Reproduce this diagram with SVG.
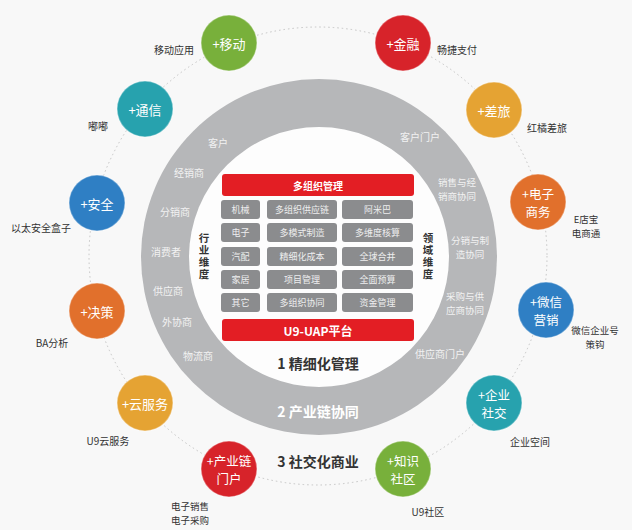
<svg xmlns="http://www.w3.org/2000/svg" width="632" height="530" viewBox="0 0 632 530">
<style>
text{font-family:"Noto Sans CJK SC","Liberation Sans",sans-serif;dominant-baseline:central;text-anchor:middle}
.lbl{font-size:10px;fill:#333}
.lbl2{font-size:9.5px;fill:#333}
.ring{font-size:10px;fill:#f2f2f2}
.ring2{font-size:9.5px;fill:#f2f2f2}
.cl{font-size:13px;fill:#fff}
.cl2{font-size:12.5px;fill:#fff}
.cell{fill:#8b8c8e}
.ct{font-size:9px;fill:#eeeeee}
.bar{fill:#e31e24}
.bt{font-size:10px;fill:#fff;font-weight:bold}
.vt{font-size:10.5px;fill:#333;font-weight:bold;writing-mode:vertical-rl;letter-spacing:1.5px}
.big{font-size:14px;font-weight:bold}
.node circle{stroke:#ffffff;stroke-opacity:0.35;stroke-width:1.5}
</style>
<rect width="632" height="530" fill="#f8f8f8"/>
<g id="connectors">
<circle cx="318" cy="256" r="229" fill="none" stroke="#c4c4c4" stroke-width="1" stroke-dasharray="1.5 3"/>
</g>
<g id="ring">
<circle cx="319" cy="257" r="178" fill="#b6b7b9"/>
<circle cx="319" cy="257" r="130" fill="#fdfdfd"/>
<text class="ring" x="218" y="142">客户</text>
<text class="ring" x="189" y="172">经销商</text>
<text class="ring" x="175" y="211">分销商</text>
<text class="ring" x="166" y="251">消费者</text>
<text class="ring" x="168" y="290">供应商</text>
<text class="ring" x="177" y="321">外协商</text>
<text class="ring" x="198" y="355">物流商</text>
<text class="ring" x="420" y="136">客户门户</text>
<text class="ring2" x="457" y="182">销售与经<tspan x="457" dy="14">销商协同</tspan></text>
<text class="ring2" x="470" y="240">分销与制<tspan x="470" dy="14">造协同</tspan></text>
<text class="ring2" x="465" y="296">采购与供<tspan x="465" dy="14">应商协同</tspan></text>
<text class="ring" x="440" y="353">供应商门户</text>
<text class="vt" x="204" y="257">行业维度</text>
<text class="vt" x="428" y="257">领域维度</text>
<text class="big" x="318" y="363" fill="#333">1 精细化管理</text>
<text class="big" x="318" y="411" fill="#ffffff">2 产业链协同</text>
<text class="big" x="318" y="461" fill="#333">3 社交化商业</text>
</g>
<g id="platform">
<rect class="bar" x="222" y="174" width="192" height="22" rx="3"/>
<text class="bt" x="318" y="185">多组织管理</text>
<rect class="cell" x="221" y="200" width="39" height="19" rx="3"/>
<rect class="cell" x="267" y="200" width="70" height="19" rx="3"/>
<rect class="cell" x="342" y="200" width="71" height="19" rx="3"/>
<rect class="cell" x="221" y="223" width="39" height="19" rx="3"/>
<rect class="cell" x="267" y="223" width="70" height="19" rx="3"/>
<rect class="cell" x="342" y="223" width="71" height="19" rx="3"/>
<rect class="cell" x="221" y="247" width="39" height="19" rx="3"/>
<rect class="cell" x="267" y="247" width="70" height="19" rx="3"/>
<rect class="cell" x="342" y="247" width="71" height="19" rx="3"/>
<rect class="cell" x="221" y="270" width="39" height="19" rx="3"/>
<rect class="cell" x="267" y="270" width="70" height="19" rx="3"/>
<rect class="cell" x="342" y="270" width="71" height="19" rx="3"/>
<rect class="cell" x="221" y="293" width="39" height="19" rx="3"/>
<rect class="cell" x="267" y="293" width="70" height="19" rx="3"/>
<rect class="cell" x="342" y="293" width="71" height="19" rx="3"/>
<text class="ct" x="240.5" y="209.5">机械</text>
<text class="ct" x="302" y="209.5">多组织供应链</text>
<text class="ct" x="377.5" y="209.5">阿米巴</text>
<text class="ct" x="240.5" y="232.5">电子</text>
<text class="ct" x="302" y="232.5">多模式制造</text>
<text class="ct" x="377.5" y="232.5">多维度核算</text>
<text class="ct" x="240.5" y="256.5">汽配</text>
<text class="ct" x="302" y="256.5">精细化成本</text>
<text class="ct" x="377.5" y="256.5">全球合并</text>
<text class="ct" x="240.5" y="279.5">家居</text>
<text class="ct" x="302" y="279.5">项目管理</text>
<text class="ct" x="377.5" y="279.5">全面预算</text>
<text class="ct" x="240.5" y="302.5">其它</text>
<text class="ct" x="302" y="302.5">多组织协同</text>
<text class="ct" x="377.5" y="302.5">资金管理</text>
<rect class="bar" x="222" y="319" width="192" height="22" rx="3"/>
<text class="bt" x="318" y="330" style="font-size:12px">U9-UAP平台</text>
</g>
<g id="n-mobile" class="node"><circle cx="229" cy="43" r="28" fill="#78b03b"/><text class="cl" x="229" y="43">+移动</text><text class="lbl" x="174" y="49">移动应用</text></g>
<g id="n-finance" class="node"><circle cx="403" cy="43" r="28" fill="#d7232a"/><text class="cl" x="403" y="43">+金融</text><text class="lbl" x="457" y="49">畅捷支付</text></g>
<g id="n-tel" class="node"><circle cx="145" cy="109" r="28" fill="#27a2ae"/><text class="cl" x="145" y="109">+通信</text><text class="lbl" x="98" y="125">嘟嘟</text></g>
<g id="n-travel" class="node"><circle cx="494" cy="110" r="28" fill="#e5a333"/><text class="cl" x="494" y="110">+差旅</text><text class="lbl" x="547" y="127">红橘差旅</text></g>
<g id="n-security" class="node"><circle cx="97" cy="203" r="28" fill="#2f7fc4"/><text class="cl" x="97" y="203">+安全</text><text class="lbl" x="41" y="227">以太安全盒子</text></g>
<g id="n-ecom" class="node"><circle cx="538" cy="202" r="28" fill="#e1702c"/><text class="cl2" x="538" y="193">+电子<tspan x="538" dy="18.2">商务</tspan></text><text class="lbl2" x="586" y="219">E店宝<tspan x="586" dy="14">电商通</tspan></text></g>
<g id="n-decision" class="node"><circle cx="97" cy="311" r="28" fill="#e1702c"/><text class="cl" x="97" y="311">+决策</text><text class="lbl" x="52" y="342">BA分析</text></g>
<g id="n-wechat" class="node"><circle cx="546" cy="310" r="28" fill="#2f7fc4"/><text class="cl2" x="546" y="301">+微信<tspan x="546" dy="18.2">营销</tspan></text><text class="lbl2" x="595" y="330">微信企业号<tspan x="595" dy="14">策钩</tspan></text></g>
<g id="n-cloud" class="node"><circle cx="145" cy="403" r="28" fill="#e5a333"/><text class="cl" x="145" y="403">+云服务</text><text class="lbl" x="108" y="440">U9云服务</text></g>
<g id="n-chain" class="node"><circle cx="229" cy="469" r="28" fill="#d7232a"/><text class="cl2" x="229" y="460">+产业链<tspan x="229" dy="18.2">门户</tspan></text><text class="lbl2" x="190" y="506">电子销售<tspan x="190" dy="14">电子采购</tspan></text></g>
<g id="n-knowledge" class="node"><circle cx="403" cy="469" r="28" fill="#78b03b"/><text class="cl2" x="403" y="460">+知识<tspan x="403" dy="18.2">社区</tspan></text><text class="lbl" x="428" y="511">U9社区</text></g>
<g id="n-social" class="node"><circle cx="494" cy="403" r="28" fill="#27a2ae"/><text class="cl2" x="494" y="394">+企业<tspan x="494" dy="18.2">社交</tspan></text><text class="lbl" x="530" y="441">企业空间</text></g>
</svg>
